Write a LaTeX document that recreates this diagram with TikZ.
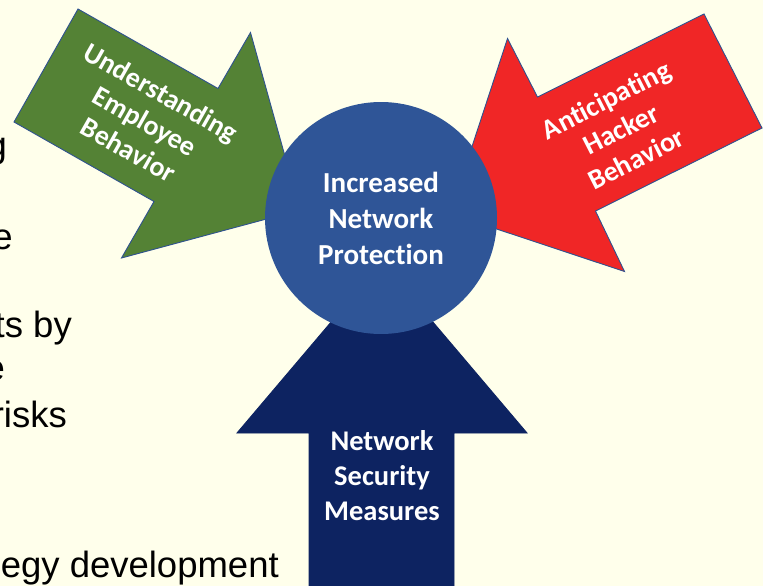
\documentclass[tikz,border=0pt]{standalone}
\usepackage{fontspec}
\newfontfamily\carlito[Ligatures=NoCommon]{Carlito}
\newfontfamily\arialf{Liberation Sans}
\definecolor{bgyellow}{RGB}{255,255,235}
\definecolor{arrgreen}{RGB}{84,130,53}
\definecolor{arrred}{RGB}{240,38,38}
\definecolor{hubblue}{RGB}{47,85,151}
\definecolor{navyarr}{RGB}{13,35,97}
\definecolor{edgeblue}{RGB}{47,82,143}
\begin{document}
\begin{tikzpicture}[x=1pt,y=-1pt,
  blockarrow/.style={draw=edgeblue, line width=0.9pt, line join=miter},
  arrlabel/.style={text=white, align=center, inner sep=0pt,
    font=\carlito\bfseries\fontsize{28}{33}\selectfont},
  hublabel/.style={text=white, align=center,
    font=\carlito\bfseries\fontsize{29}{36}\selectfont},
  sidetext/.style={text=black, inner sep=0pt, anchor=base east,
    font=\arialf\fontsize{36.5}{43}\selectfont}]
\useasboundingbox (0,0) rectangle (763,586);
\fill[bgyellow] (0,0) rectangle (763,586);

% side text (cut off at the left edge)
\node[sidetext] (s1) at (7,157) {g};
\node[sidetext] (s2) at (13,249) {e};
\node[sidetext] (s3) at (72,337) {ts by};
\node[sidetext] (s4) at (5,380) {e};
\node[sidetext] (s5) at (67,427) {risks};
\node[sidetext] (s6) at (279,577) {egy development};

% green arrow
\filldraw[blockarrow, fill=arrgreen]
  (78,9) -- (218,88.5) -- (250.5,32.5) -- (300,210) -- (121.5,258)
  -- (154,201.5) -- (14,122) -- cycle;
% red arrow
\filldraw[blockarrow, fill=arrred]
  (704,14) -- (537.5,97) -- (507.5,38.5) -- (450,213.5) -- (624.5,271.5)
  -- (595.5,211) -- (762,128) -- cycle;
% navy arrow
\filldraw[fill=navyarr, draw=navyarr, line width=0.9pt, line join=miter]
  (382,262) -- (527,433) -- (454,433) -- (454,592) -- (309,592)
  -- (309,433) -- (237,433) -- cycle;

% hub
\node[circle, fill=hubblue, minimum size=232pt, inner sep=0pt, hublabel]
  (hub) at (381,218) {Increased\\Network\\Protection};

% labels
\node[arrlabel, rotate=-29.5] (lgreen) at (145,121)
  {Understanding\\Employee\\Behavior};
\node[arrlabel, rotate=27] (lred) at (621,129)
  {Anticipating\\Hacker\\Behavior};
\node[arrlabel, font=\carlito\bfseries\fontsize{28.5}{35}\selectfont]
  (lnavy) at (382,476) {Network\\Security\\Measures};
\end{tikzpicture}
\end{document}
